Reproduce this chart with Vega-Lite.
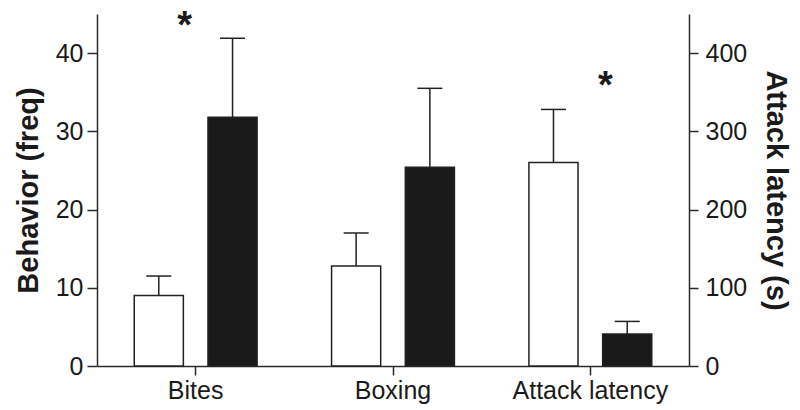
{
  "$schema": "https://vega.github.io/schema/vega-lite/v6.json",
  "width": 592,
  "height": 352,
  "autosize": {"type": "none"},
  "padding": {"left": 97, "top": 14, "right": 111, "bottom": 44},
  "background": "white",
  "datasets": {
    "bars": [
      {"category": "Bites", "group": "control", "mean": 9.0, "upper": 11.5, "side": "left"},
      {"category": "Bites", "group": "treated", "mean": 31.8, "upper": 41.9, "side": "left"},
      {"category": "Boxing", "group": "control", "mean": 12.8, "upper": 17.0, "side": "left"},
      {"category": "Boxing", "group": "treated", "mean": 25.4, "upper": 35.5, "side": "left"},
      {"category": "Attack latency", "group": "control", "mean": 260, "upper": 328, "side": "right"},
      {"category": "Attack latency", "group": "treated", "mean": 41, "upper": 57, "side": "right"}
    ],
    "stars": [
      {"category": "Bites", "label": "*", "y": 41.9, "side": "left"},
      {"category": "Attack latency", "label": "*", "y": 343, "side": "right"}
    ]
  },
  "config": {
    "view": {"stroke": null},
    "font": "Liberation Sans",
    "axis": {
      "domainColor": "#2b2b2b",
      "domainWidth": 1.5,
      "tickColor": "#2b2b2b",
      "tickWidth": 1.5,
      "labelFont": "Liberation Sans",
      "labelFontSize": 25,
      "labelColor": "#1a1a1a",
      "titleFont": "Liberation Sans",
      "titleFontSize": 29,
      "titleFontWeight": "bold",
      "titleColor": "#1a1a1a",
      "grid": false
    }
  },
  "layer": [
    {
      "layer": [
        {
          "data": {"name": "bars"},
          "transform": [{"filter": "datum.side == 'left'"}],
          "mark": {"type": "bar", "stroke": "#222222", "strokeWidth": 1.5},
          "encoding": {
            "x": {"field": "category", "type": "nominal", "scale": {"domain": ["Bites", "Boxing", "Attack latency"], "paddingInner": 0, "paddingOuter": 0}, "axis": {"title": null, "labelAngle": 0, "tickSize": 9, "labelPadding": 3}},
            "xOffset": {"field": "group", "type": "nominal", "scale": {"domain": ["control", "treated"], "paddingInner": 0.334, "paddingOuter": 0.505}},
            "y": {"field": "mean", "type": "quantitative", "scale": {"domain": [0, 45], "nice": false}, "axis": {"title": "Behavior (freq)", "values": [0, 10, 20, 30, 40], "tickSize": 10, "labelPadding": 4, "titlePadding": 12}},
            "fill": {"field": "group", "type": "nominal", "scale": {"domain": ["control", "treated"], "range": ["#ffffff", "#1a1a1a"]}, "legend": null}
          }
        },
        {
          "data": {"name": "bars"},
          "transform": [{"filter": "datum.side == 'left'"}],
          "mark": {"type": "rule", "color": "#222222", "strokeWidth": 1.5},
          "encoding": {
            "x": {"field": "category", "type": "nominal"},
            "xOffset": {"field": "group", "type": "nominal"},
            "y": {"field": "mean", "type": "quantitative"},
            "y2": {"field": "upper"}
          }
        },
        {
          "data": {"name": "bars"},
          "transform": [{"filter": "datum.side == 'left'"}],
          "mark": {"type": "tick", "color": "#222222", "size": 25, "thickness": 1.5, "opacity": 1},
          "encoding": {
            "x": {"field": "category", "type": "nominal"},
            "xOffset": {"field": "group", "type": "nominal"},
            "y": {"field": "upper", "type": "quantitative"}
          }
        },
        {
          "data": {"name": "stars"},
          "transform": [{"filter": "datum.side == 'left'"}],
          "mark": {"type": "text", "fontSize": 38, "fontWeight": "bold", "color": "#1a1a1a", "dx": -11, "baseline": "alphabetic", "align": "center"},
          "encoding": {
            "x": {"field": "category", "type": "nominal"},
            "y": {"field": "y", "type": "quantitative"},
            "text": {"field": "label"}
          }
        }
      ]
    },
    {
      "layer": [
        {
          "data": {"name": "bars"},
          "transform": [{"filter": "datum.side == 'right'"}],
          "mark": {"type": "bar", "stroke": "#222222", "strokeWidth": 1.5},
          "encoding": {
            "x": {"field": "category", "type": "nominal"},
            "xOffset": {"field": "group", "type": "nominal"},
            "y": {"field": "mean", "type": "quantitative", "scale": {"domain": [0, 450], "nice": false}, "axis": {"orient": "right", "title": "Attack latency (s)", "values": [0, 100, 200, 300, 400], "tickSize": 9, "labelPadding": 7, "titlePadding": 14}},
            "fill": {"field": "group", "type": "nominal", "legend": null}
          }
        },
        {
          "data": {"name": "bars"},
          "transform": [{"filter": "datum.side == 'right'"}],
          "mark": {"type": "rule", "color": "#222222", "strokeWidth": 1.5},
          "encoding": {
            "x": {"field": "category", "type": "nominal"},
            "xOffset": {"field": "group", "type": "nominal"},
            "y": {"field": "mean", "type": "quantitative"},
            "y2": {"field": "upper"}
          }
        },
        {
          "data": {"name": "bars"},
          "transform": [{"filter": "datum.side == 'right'"}],
          "mark": {"type": "tick", "color": "#222222", "size": 25, "thickness": 1.5, "opacity": 1},
          "encoding": {
            "x": {"field": "category", "type": "nominal"},
            "xOffset": {"field": "group", "type": "nominal"},
            "y": {"field": "upper", "type": "quantitative"}
          }
        },
        {
          "data": {"name": "stars"},
          "transform": [{"filter": "datum.side == 'right'"}],
          "mark": {"type": "text", "fontSize": 38, "fontWeight": "bold", "color": "#1a1a1a", "dx": 15, "baseline": "alphabetic", "align": "center"},
          "encoding": {
            "x": {"field": "category", "type": "nominal"},
            "y": {"field": "y", "type": "quantitative"},
            "text": {"field": "label"}
          }
        }
      ],
      "resolve": {"scale": {"y": "shared"}}
    }
  ],
  "resolve": {"scale": {"y": "independent"}}
}
